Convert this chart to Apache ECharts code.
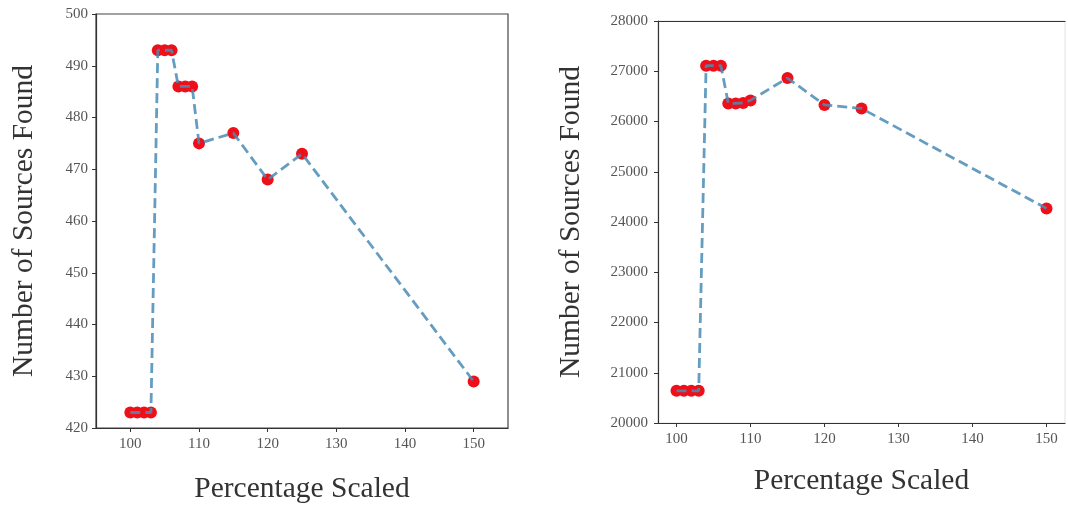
<!DOCTYPE html>
<html>
<head>
<meta charset="utf-8">
<script src="https://cdn.jsdelivr.net/npm/echarts@6/dist/echarts.min.js"></script>
<style>
  html, body { margin: 0; padding: 0; background: #fff; }
  #chart { width: 1068px; height: 505px; }
</style>
</head>
<body>
<div id="chart"></div>
<script>
// Percentage scaled vs. number of sources found, two runs side by side
const percentScaled = [100, 101, 102, 103, 104, 105, 106, 107, 108, 109, 110, 115, 120, 125, 150];
const sourcesSmall = [423, 423, 423, 423, 493, 493, 493, 486, 486, 486, 475, 477, 468, 473, 429];
const sourcesLarge = [20640, 20640, 20640, 20640, 27110, 27110, 27110, 26360, 26360, 26370, 26420, 26865, 26330, 26260, 24270];
const xTickValues = [100, 110, 120, 130, 140, 150];

const FONT = '"Liberation Serif", "DejaVu Serif", serif';
const AXIS_COLOR = '#333';
const LABEL_COLOR = '#555';
const LINE_COLOR = '#4a8cb6';
const DOT_COLOR = '#ee0f18';

function pairs(xs, ys) { return xs.map((x, i) => [x, ys[i]]); }

function xAxisFor(gridIndex, min, max, nameGap) {
  return {
    type: 'value', gridIndex, min, max,
    name: 'Percentage Scaled', nameLocation: 'middle', nameGap,
    nameTextStyle: { fontFamily: FONT, fontSize: 29.5, color: '#333' },
    axisLine: { show: true, lineStyle: { color: AXIS_COLOR, width: 1.2 } },
    axisTick: { show: true, inside: false, length: 4, customValues: xTickValues, lineStyle: { color: AXIS_COLOR } },
    axisLabel: { customValues: xTickValues, fontFamily: FONT, fontSize: 15, color: LABEL_COLOR, margin: 9 },
    splitLine: { show: false }
  };
}

// plain top spine (no ticks or labels)
function topSpine(gridIndex, min, max) {
  return {
    type: 'value', gridIndex, min, max, position: 'top',
    axisLine: { show: true, lineStyle: { color: AXIS_COLOR, width: 1.2 } },
    axisTick: { show: false }, axisLabel: { show: false }, splitLine: { show: false }
  };
}

function yAxisFor(gridIndex, min, max, interval, nameGap, labelMargin) {
  return {
    type: 'value', gridIndex, min, max, interval,
    name: 'Number of Sources Found', nameLocation: 'middle', nameGap,
    nameTextStyle: { fontFamily: FONT, fontSize: 29.5, color: '#333' },
    axisLine: { show: true, lineStyle: { color: AXIS_COLOR, width: 1.2 } },
    axisTick: { show: true, inside: false, length: 4, lineStyle: { color: AXIS_COLOR } },
    axisLabel: { fontFamily: FONT, fontSize: 15, color: LABEL_COLOR, margin: labelMargin, formatter: v => String(v) },
    splitLine: { show: false }
  };
}

function seriesFor(idx, data) {
  return [
    {
      type: 'scatter', xAxisIndex: idx, yAxisIndex: idx, data,
      symbol: 'circle', symbolSize: 12,
      itemStyle: { color: DOT_COLOR, opacity: 1 }, z: 2, silent: true
    },
    {
      type: 'line', xAxisIndex: idx, yAxisIndex: idx, data,
      showSymbol: false, symbol: 'none',
      lineStyle: { color: LINE_COLOR, width: 2.8, type: [10, 5], opacity: 0.85 },
      z: 3, silent: true, animation: false
    }
  ];
}

const chart = echarts.init(document.getElementById('chart'), null, { renderer: 'canvas' });
chart.setOption({
  animation: false,
  backgroundColor: '#fff',
  grid: [
    { left: 96, right: 560, top: 14, bottom: 77, outerBoundsMode: 'none', containLabel: false,
      show: true, borderColor: '#444', borderWidth: 1.2, backgroundColor: 'transparent' },
    { left: 658, right: 3, top: 21, bottom: 82, outerBoundsMode: 'none', containLabel: false,
      show: true, borderColor: '#e2e2e2', borderWidth: 1, backgroundColor: 'transparent' }
  ],
  xAxis: [
    xAxisFor(0, 95, 155, 46),
    xAxisFor(1, 97.5, 152.5, 43),
    topSpine(1, 97.5, 152.5)
  ],
  yAxis: [
    yAxisFor(0, 420, 500, 10, 57, 8),
    yAxisFor(1, 20000, 28000, 1000, 72, 10)
  ],
  series: [
    ...seriesFor(0, pairs(percentScaled, sourcesSmall)),
    ...seriesFor(1, pairs(percentScaled, sourcesLarge))
  ]
});
</script>
</body>
</html>
